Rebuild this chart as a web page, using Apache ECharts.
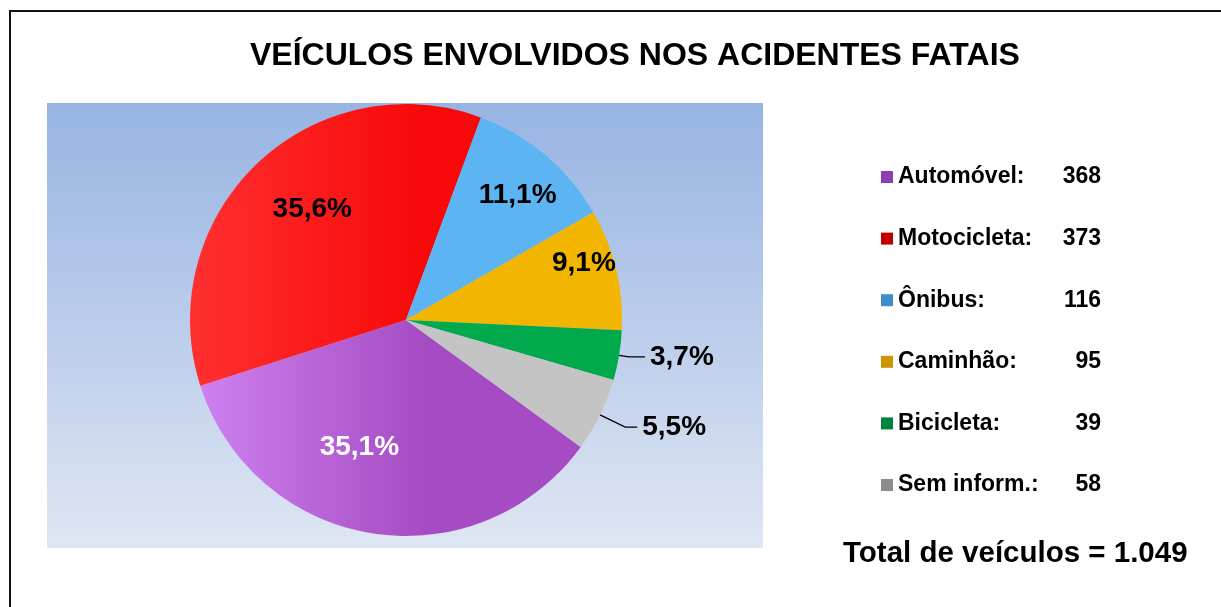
<!DOCTYPE html>
<html>
<head>
<meta charset="utf-8">
<script src="https://cdn.jsdelivr.net/npm/echarts@6/dist/echarts.min.js"></script>
<style>
  html, body { margin: 0; padding: 0; background: #ffffff; }
  #chart { width: 1221px; height: 607px; }
</style>
</head>
<body>
<div id="chart"></div>
<script>
// Vehicle categories and counts
const categories = ['Automóvel', 'Motocicleta', 'Ônibus', 'Caminhão', 'Bicicleta', 'Sem inform.'];
const counts = [368, 373, 116, 95, 39, 58];
const titleText = 'VEÍCULOS ENVOLVIDOS NOS ACIDENTES FATAIS';
const totalText = 'Total de veículos = 1.049';

// Slice colours: light edge and base tone, plus a darker legend swatch
const lightColors = ['#d083f2', '#ff3030', '#6cbcf8', '#fbc40a', '#0cb95a', '#d6d6d6'];
const baseColors  = ['#a54bc3', '#f80808', '#5db4f3', '#f2b500', '#00a94c', '#c4c4c4'];
const swatchColors = ['#8a3fb0', '#c00000', '#3d8ccc', '#cc9600', '#00843c', '#8c8c8c'];

// Per-slice label placement tweaks (inside labels and leader lines)
const labelTweaks = [
  { position: 'inside', offset: [-29, 18], color: '#ffffff' },
  { position: 'inside', offset: [-17, -30], color: '#000000' },
  { position: 'inside', offset: [40, -40], color: '#000000' },
  { position: 'inside', offset: [70, -31], color: '#000000' },
  { position: 'outside', color: '#000000', line: [10, 16] },
  { position: 'outside', color: '#000000', line: [28, 12] }
];

const FONT = '"Liberation Sans", Arial, sans-serif';
const total = counts.reduce((a, b) => a + b, 0);
const pct = v => (v / total * 100).toFixed(1).replace('.', ',') + '%';

const cx = 406, cy = 320, R = 216;

const pieData = categories.map((name, i) => {
  const t = labelTweaks[i];
  return {
    name,
    value: counts[i],
    itemStyle: {
      color: new echarts.graphic.LinearGradient(cx - R, 0, cx + 20, 0, [
        { offset: 0, color: lightColors[i] },
        { offset: 1, color: baseColors[i] }
      ], true)
    },
    label: {
      show: true,
      position: t.position,
      offset: t.offset || [0, 0],
      color: t.color
    },
    labelLine: t.line
      ? { show: true, length: t.line[0], length2: t.line[1] }
      : { show: false }
  };
});

const chart = echarts.init(document.getElementById('chart'), null, { renderer: 'canvas' });

chart.setOption({
  animation: false,
  backgroundColor: '#ffffff',
  title: {
    text: titleText,
    left: 245,
    top: 35,
    textStyle: { fontFamily: FONT, fontSize: 32, fontWeight: 'bold', color: '#000000' }
  },
  graphic: [
    {
      type: 'rect', z: -10, silent: true,
      shape: { x: 10, y: 11, width: 1240, height: 620 },
      style: { fill: '#ffffff', stroke: '#111111', lineWidth: 2 }
    },
    {
      type: 'rect', z: -5, silent: true,
      shape: { x: 47, y: 103, width: 716, height: 445 },
      style: {
        fill: new echarts.graphic.LinearGradient(0, 0, 0, 1, [
          { offset: 0, color: '#97b4e3' },
          { offset: 1, color: '#dfe6f3' }
        ])
      }
    },
    {
      type: 'text', silent: true,
      left: 843, top: 539,
      style: { text: totalText, fontFamily: FONT, fontSize: 29.5, fontWeight: 'bold', fill: '#000000' }
    }
  ],
  legend: {
    orient: 'vertical',
    left: 876,
    top: 159,
    icon: 'rect',
    itemWidth: 12,
    itemHeight: 12,
    itemGap: 35.6,
    selectedMode: false,
    data: categories.map((name, i) => ({ name, itemStyle: { color: swatchColors[i] } })),
    formatter: name => {
      const i = categories.indexOf(name);
      return '{n|' + name + ':}{v|' + counts[i] + '}';
    },
    textStyle: {
      fontFamily: FONT, fontSize: 23, fontWeight: 'bold', color: '#000000',
      lineHeight: 26,
      rich: {
        n: { fontFamily: FONT, fontSize: 23, fontWeight: 'bold', color: '#000000', width: 163, lineHeight: 26 },
        v: { fontFamily: FONT, fontSize: 23, fontWeight: 'bold', color: '#000000', width: 40, align: 'right', lineHeight: 26 }
      }
    }
  },
  series: [{
    type: 'pie',
    center: [cx, cy],
    radius: [0, R],
    startAngle: -36,
    clockwise: true,
    avoidLabelOverlap: false,
    itemStyle: { borderWidth: 0 },
    label: {
      fontFamily: FONT,
      fontSize: 28,
      fontWeight: 'bold',
      formatter: p => pct(p.value)
    },
    labelLine: {
      lineStyle: { color: '#000000', width: 1.3 }
    },
    data: pieData
  }]
});
</script>
</body>
</html>
